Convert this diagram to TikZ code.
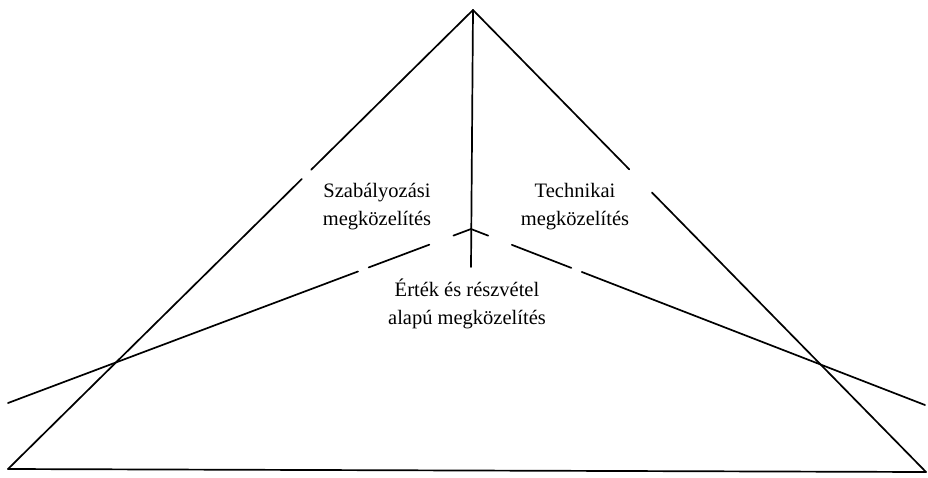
\documentclass[tikz,border=0pt]{standalone}
\usepackage{fontspec}
\setmainfont{Liberation Serif}
\usetikzlibrary{calc}

\begin{document}
\begin{tikzpicture}[x=1pt,y=-1pt,
    edge/.style={line width=1.7pt, line cap=round},
    approach/.style={font=\fontsize{20.5}{28}\selectfont, align=center, inner sep=0pt}]

\useasboundingbox (0,0) rectangle (928,477);

% Corners of the pyramid
\coordinate (apex) at (473,10);
\coordinate (baseL) at (8,469);
\coordinate (baseR) at (926,472);

% Inner lines: stem and the two arms
\coordinate (hub) at (471,229);
\coordinate (stem) at (471,267);
\coordinate (armL) at (8,403);
\coordinate (armR) at (925,405);

% Base
\draw[edge] (baseL) -- (baseR);

% Sides, each broken once
\draw[edge] (apex) -- ($(apex)!0.348!(baseL)$);
\draw[edge] ($(apex)!0.368!(baseL)$) -- (baseL);
\draw[edge] (apex) -- ($(apex)!0.345!(baseR)$);
\draw[edge] ($(apex)!0.395!(baseR)$) -- (baseR);

% Stem from the apex
\draw[edge] (apex) -- (stem);

% Arms, broken twice
\foreach \arm in {armL,armR} {
    \draw[edge] (hub) -- ($(hub)!0.038!(\arm)$);
    \draw[edge] ($(hub)!0.09!(\arm)$) -- ($(hub)!0.221!(\arm)$);
    \draw[edge] ($(hub)!0.244!(\arm)$) -- (\arm);
}

% Labels
\node[approach] (rule) at (377,207) {Szabályozási\\megközelítés};
\node[approach] (tech) at (575,207) {Technikai\\megközelítés};
\node[approach] (value) at (467,304) {Érték és részvétel\\alapú megközelítés};

\end{tikzpicture}
\end{document}
